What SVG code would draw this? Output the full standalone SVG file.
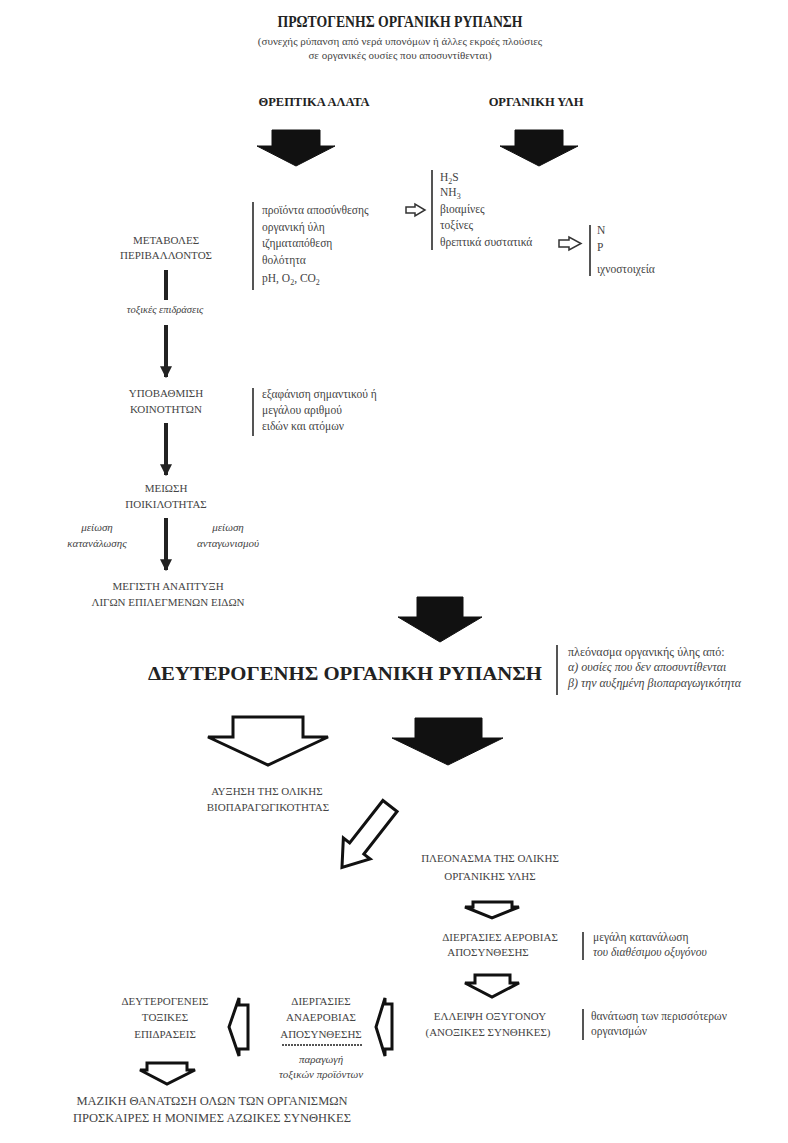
<svg xmlns="http://www.w3.org/2000/svg" width="788" height="1143" viewBox="0 0 788 1143">
<style>
text{font-family:"Liberation Serif","DejaVu Serif",serif;fill:#444}
.h{font-weight:bold;fill:#222}
.c{font-size:11px;text-anchor:middle}
.n{font-size:11.5px}
.i{font-style:italic}
.m{text-anchor:middle}
.bar{stroke:#555;stroke-width:2;fill:none}
.blk{fill:#111;stroke:#111;stroke-width:1}
.opn{fill:#fff;stroke:#111;stroke-width:3;stroke-linejoin:miter}
.sm{fill:#fff;stroke:#333;stroke-width:1.5}
.ln{stroke:#222;stroke-width:4;fill:none}
</style>
<defs>
<marker id="ah" viewBox="0 0 10 10" refX="9" refY="5" markerWidth="3" markerHeight="3" orient="auto"><path d="M0,0 L10,5 L0,10 Z" fill="#222"/></marker>
</defs>

<g id="title">
<text class="h m" x="400" y="27" font-size="17" textLength="245" lengthAdjust="spacingAndGlyphs">ΠΡΩΤΟΓΕΝΗΣ ΟΡΓΑΝΙΚΗ ΡΥΠΑΝΣΗ</text>
<text class="m" x="400" y="45" font-size="11">(συνεχής ρύπανση από νερά υπονόμων ή άλλες εκροές πλούσιες</text>
<text class="m" x="400" y="59" font-size="11">σε οργανικές ουσίες που αποσυντίθενται)</text>
</g>
<g id="threptika"><text class="h m" x="314" y="106" font-size="12.5">ΘΡΕΠΤΙΚΑ ΑΛΑΤΑ</text></g>
<g id="organiki"><text class="h m" x="536" y="106" font-size="12.5">ΟΡΓΑΝΙΚΗ ΥΛΗ</text></g>

<g id="list-left">
<text class="n" x="262" y="214">προϊόντα αποσύνθεσης</text>
<text class="n" x="262" y="231">οργανική ύλη</text>
<text class="n" x="262" y="247">ιζηματαπόθεση</text>
<text class="n" x="262" y="264">θολότητα</text>
<text class="n" x="262" y="282">pH, O<tspan font-size="8" dy="3">2</tspan><tspan dy="-3">, CO</tspan><tspan font-size="8" dy="3">2</tspan></text>
</g>
<g id="list-right">
<text class="n" x="440" y="181">H<tspan font-size="8" dy="3">2</tspan><tspan dy="-3">S</tspan></text>
<text class="n" x="440" y="196">NH<tspan font-size="8" dy="3">3</tspan></text>
<text class="n" x="440" y="213">βιοαμίνες</text>
<text class="n" x="440" y="229">τοξίνες</text>
<text class="n" x="440" y="246">θρεπτικά συστατικά</text>
</g>
<g id="list-nutrients">
<text class="n" x="597" y="234">N</text>
<text class="n" x="597" y="251">P</text>
<text class="n" x="597" y="273">ιχνοστοιχεία</text>
</g>

<g id="metaboles"><text class="c" x="166" y="244">ΜΕΤΑΒΟΛΕΣ</text><text class="c" x="166" y="259">ΠΕΡΙΒΑΛΛΟΝΤΟΣ</text></g>
<g id="toxikes"><text class="i m" font-size="10.5" x="165" y="313">τοξικές επιδράσεις</text></g>
<g id="ypovathmisi"><text class="c" x="166" y="397">ΥΠΟΒΑΘΜΙΣΗ</text><text class="c" x="166" y="413">ΚΟΙΝΟΤΗΤΩΝ</text></g>
<g id="exafanisi">
<text class="n" x="262" y="398">εξαφάνιση σημαντικού ή</text>
<text class="n" x="262" y="414">μεγάλου αριθμού</text>
<text class="n" x="262" y="430">ειδών και ατόμων</text>
</g>
<g id="meiosi"><text class="c" x="166" y="492">ΜΕΙΩΣΗ</text><text class="c" x="166" y="508">ΠΟΙΚΙΛΟΤΗΤΑΣ</text></g>
<g id="katanalosi"><text class="i m" font-size="11" x="97" y="531">μείωση</text><text class="i m" font-size="11" x="97" y="547">κατανάλωσης</text></g>
<g id="antagonismos"><text class="i m" font-size="11" x="228" y="531">μείωση</text><text class="i m" font-size="11" x="228" y="547">ανταγωνισμού</text></g>
<g id="megisti"><text class="c" x="168" y="590">ΜΕΓΙΣΤΗ ΑΝΑΠΤΥΞΗ</text><text class="c" x="168" y="606">ΛΙΓΩΝ ΕΠΙΛΕΓΜΕΝΩΝ ΕΙΔΩΝ</text></g>

<g id="deuterogenis">
<text class="h m" x="345" y="680" font-size="18" textLength="394" lengthAdjust="spacingAndGlyphs">ΔΕΥΤΕΡΟΓΕΝΗΣ ΟΡΓΑΝΙΚΗ ΡΥΠΑΝΣΗ</text>
</g>
<g id="pleonasma-note">
<text font-size="12" x="568" y="656">πλεόνασμα οργανικής ύλης από:</text>
<text class="i" font-size="12" x="568" y="671">α) ουσίες που δεν αποσυντίθενται</text>
<text class="i" font-size="12" x="568" y="687">β) την αυξημένη βιοπαραγωγικότητα</text>
</g>
<g id="afxisi"><text class="c" x="267" y="795">ΑΥΞΗΣΗ ΤΗΣ ΟΛΙΚΗΣ</text><text class="c" x="268" y="811">ΒΙΟΠΑΡΑΓΩΓΙΚΟΤΗΤΑΣ</text></g>
<g id="pleonasma"><text class="c" x="490" y="862">ΠΛΕΟΝΑΣΜΑ ΤΗΣ ΟΛΙΚΗΣ</text><text class="c" x="490" y="880">ΟΡΓΑΝΙΚΗΣ ΥΛΗΣ</text></g>
<g id="aerobia"><text class="c" x="500" y="941">ΔΙΕΡΓΑΣΙΕΣ ΑΕΡΟΒΙΑΣ</text><text class="c" x="488" y="956">ΑΠΟΣΥΝΘΕΣΗΣ</text></g>
<g id="aerobia-note"><text class="n" x="593" y="941">μεγάλη κατανάλωση</text><text class="n i" x="593" y="956">του διαθέσιμου οξυγόνου</text></g>
<g id="elleipsi"><text class="c" x="490" y="1020">ΕΛΛΕΙΨΗ ΟΞΥΓΟΝΟΥ</text><text class="c" x="488" y="1036">(ΑΝΟΞΙΚΕΣ ΣΥΝΘΗΚΕΣ)</text></g>
<g id="elleipsi-note"><text class="n" x="591" y="1020">θανάτωση των περισσότερων</text><text class="n" x="591" y="1035">οργανισμών</text></g>
<g id="anaerobia">
<text class="c" x="321" y="1005">ΔΙΕΡΓΑΣΙΕΣ</text><text class="c" x="321" y="1021">ΑΝΑΕΡΟΒΙΑΣ</text><text class="c" x="321" y="1038">ΑΠΟΣΥΝΘΕΣΗΣ</text>
<line x1="282" y1="1045" x2="362" y2="1045" stroke="#555" stroke-width="2" stroke-dasharray="2 1"/>
<text class="i m" font-size="11" x="321" y="1063">παραγωγή</text><text class="i m" font-size="11" x="321" y="1078">τοξικών προϊόντων</text>
</g>
<g id="toxikes-epidraseis"><text class="c" x="165" y="1005">ΔΕΥΤΕΡΟΓΕΝΕΙΣ</text><text class="c" x="165" y="1021">ΤΟΞΙΚΕΣ</text><text class="c" x="165" y="1038">ΕΠΙΔΡΑΣΕΙΣ</text></g>
<g id="maziki"><text class="m" font-size="12.5" x="212" y="1105">ΜΑΖΙΚΗ ΘΑΝΑΤΩΣΗ ΟΛΩΝ ΤΩΝ ΟΡΓΑΝΙΣΜΩΝ</text><text class="m" font-size="12.5" x="212" y="1122">ΠΡΟΣΚΑΙΡΕΣ Η ΜΟΝΙΜΕΣ ΑΖΩΙΚΕΣ ΣΥΝΘΗΚΕΣ</text></g>

<g id="connectors">
<line class="bar" x1="253" y1="202" x2="253" y2="290"/>
<line class="bar" x1="432" y1="170" x2="432" y2="250"/>
<line class="bar" x1="590" y1="225" x2="590" y2="276"/>
<line class="bar" x1="253" y1="388" x2="253" y2="436"/>
<line class="bar" x1="557" y1="645" x2="557" y2="695"/>
<line class="bar" x1="583" y1="932" x2="583" y2="960"/>
<line class="bar" x1="583" y1="1009" x2="583" y2="1040"/>
<path class="sm" d="M406,207 H415 V204 L425,210 L415,216 V213 H406 Z"/>
<path class="sm" d="M559,240 H569 V237 L581,243.5 L569,250 V247 H559 Z"/>
<path class="blk" d="M272,130 H320 V146 H335 L296,166 L257,146 H272 Z"/>
<path class="blk" d="M515,130 H563 V146 H578 L539,166 L500,146 H515 Z"/>
<line class="ln" x1="166" y1="270" x2="166" y2="300"/>
<line class="ln" x1="166" y1="325" x2="166" y2="377" marker-end="url(#ah)"/>
<line class="ln" x1="166" y1="423" x2="166" y2="475" marker-end="url(#ah)"/>
<line class="ln" x1="166" y1="518" x2="166" y2="570" marker-end="url(#ah)"/>
<path class="blk" d="M417,597 H463 V617 H482 L440,642 L398,617 H417 Z"/>
<path class="opn" d="M233,717 H303 V737 H328 L268,765 L208,737 H233 Z"/>
<path class="blk" d="M415,718 H482 V738 H503 L448,765 L392,738 H415 Z"/>
<path class="opn" d="M-9,0 H9 V54 H17 L0,78 L-17,54 H-9 Z" transform="translate(390,806) rotate(38)"/>
<path class="opn" d="M473,902 H512 V907 H519 L492,918 L465,907 H473 Z"/>
<path class="opn" d="M475,975 H510 V983 H519 L492,997 L465,983 H475 Z"/>
<path class="opn" d="M392,1004 V1049 H385 V1056 L376,1027 L385,998 V1004 Z"/>
<path class="opn" d="M248,1005 V1049 H239 V1056 L229,1027 L239,998 V1005 Z"/>
<path class="opn" d="M147,1063 H187 V1070 H195 L167,1084 L140,1070 H147 Z"/>
</g>
</svg>
